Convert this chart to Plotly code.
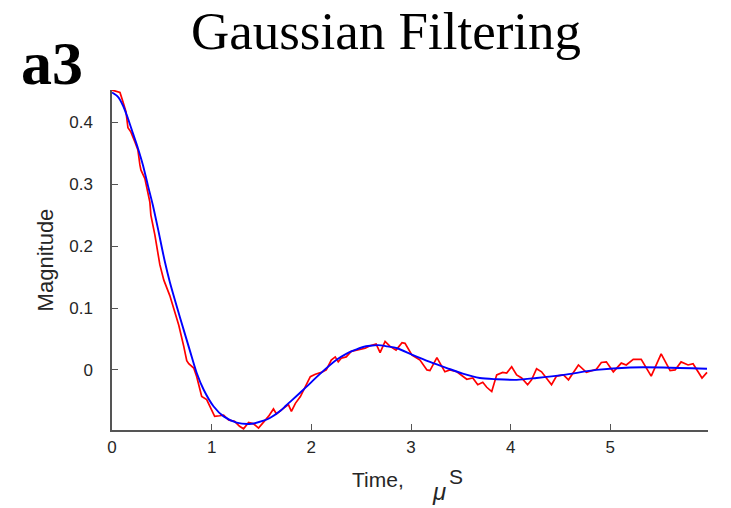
import plotly.graph_objects as go

# Gaussian-filtered (smooth) curve
blue_t = [0.00, 0.06, 0.11, 0.16, 0.21, 0.26, 0.31, 0.36, 0.41, 0.46, 0.53, 0.58,
          0.68, 0.78, 0.85, 0.92, 1.02, 1.12, 1.25, 1.40, 1.52, 1.58, 1.69, 1.75,
          1.92, 2.09, 2.25, 2.35, 2.42, 2.52, 2.59, 2.67, 2.76, 2.86, 3.02, 3.19,
          3.36, 3.52, 3.69, 3.86, 4.06, 4.26, 4.53, 4.86, 5.20, 5.53, 5.97]
blue_v = [0.448, 0.441, 0.427, 0.406, 0.382, 0.358, 0.331, 0.298, 0.266, 0.229, 0.175, 0.142,
          0.086, 0.032, -0.005, -0.032, -0.059, -0.075, -0.085, -0.087, -0.082, -0.078, -0.066, -0.057,
          -0.032, -0.006, 0.016, 0.026, 0.031, 0.037, 0.039, 0.040, 0.038, 0.035, 0.024, 0.013,
          0.003, -0.006, -0.013, -0.015, -0.016, -0.013, -0.008, 0.000, 0.004, 0.004, 0.002]

# Noisy (raw) curve
red_t = [0.00, 0.04, 0.08, 0.11, 0.14, 0.16, 0.19, 0.23, 0.26, 0.28, 0.29, 0.33, 0.36, 0.38,
         0.39, 0.43, 0.48, 0.52, 0.58, 0.62, 0.67, 0.72, 0.75, 0.77, 0.82, 0.85, 0.90, 0.95,
         1.00, 1.03, 1.08, 1.12, 1.17, 1.23, 1.28, 1.32, 1.37, 1.42, 1.47, 1.52, 1.57, 1.62,
         1.65, 1.72, 1.77, 1.80, 1.84, 1.89, 1.94, 1.99, 2.04, 2.10, 2.15, 2.20, 2.24, 2.27,
         2.30, 2.35, 2.40, 2.47, 2.54, 2.59, 2.65, 2.69, 2.74, 2.79, 2.85, 2.91, 2.94, 3.01,
         3.06, 3.09, 3.16, 3.19, 3.26, 3.34, 3.39, 3.46, 3.56, 3.62, 3.67, 3.72, 3.76, 3.81,
         3.86, 3.92, 3.96, 4.01, 4.06, 4.11, 4.17, 4.21, 4.26, 4.31, 4.41, 4.46, 4.53, 4.58,
         4.68, 4.76, 4.86, 4.91, 4.96, 5.03, 5.11, 5.16, 5.23, 5.31, 5.41, 5.51, 5.60, 5.65,
         5.71, 5.78, 5.83, 5.92, 5.97]
red_v = [0.452, 0.450, 0.448, 0.433, 0.417, 0.391, 0.384, 0.368, 0.355, 0.331, 0.323, 0.309, 0.288, 0.271,
         0.250, 0.218, 0.170, 0.145, 0.120, 0.100, 0.072, 0.038, 0.015, 0.010, 0.003, -0.011, -0.043, -0.048,
         -0.065, -0.075, -0.074, -0.073, -0.081, -0.083, -0.091, -0.095, -0.085, -0.087, -0.094, -0.085, -0.075, -0.063,
         -0.071, -0.062, -0.056, -0.067, -0.054, -0.043, -0.027, -0.011, -0.007, -0.004, 0.000, 0.016, 0.021, 0.013,
         0.019, 0.021, 0.030, 0.032, 0.035, 0.039, 0.042, 0.028, 0.046, 0.038, 0.032, 0.044, 0.043, 0.024,
         0.019, 0.016, 0.000, -0.001, 0.020, -0.003, 0.000, -0.003, -0.015, -0.013, -0.024, -0.020, -0.028, -0.035,
         -0.008, -0.004, -0.005, 0.005, -0.008, -0.013, -0.024, -0.016, 0.002, -0.003, -0.024, -0.010, -0.008, -0.016,
         0.008, -0.004, 0.001, 0.012, 0.013, -0.003, 0.011, 0.008, 0.017, 0.017, -0.010, 0.026, -0.001, 0.000,
         0.013, 0.008, 0.010, -0.013, -0.004]

x_ticks = [0, 1, 2, 3, 4, 5]
y_ticks = [0, 0.1, 0.2, 0.3, 0.4]
y_tick_text = ["0", "0.1", "0.2", "0.3", "0.4"]

fig = go.Figure()
fig.add_trace(go.Scatter(x=red_t, y=red_v, mode="lines",
                         line=dict(color="#ff0000", width=1.7), showlegend=False))
fig.add_trace(go.Scatter(x=blue_t, y=blue_v, mode="lines",
                         line=dict(color="#0000ff", width=1.9, shape="spline", smoothing=0.8),
                         showlegend=False))

axis_font = dict(family="Liberation Sans, Arial, sans-serif", size=17, color="#262626")

fig.update_layout(
    width=731, height=508,
    margin=dict(l=112, r=23, t=90, b=78),
    paper_bgcolor="white", plot_bgcolor="white",
    xaxis=dict(range=[0, 5.98], tickvals=x_ticks, ticks="inside", ticklen=6,
               tickcolor="#555555", showline=True, linecolor="#555555", linewidth=1.5,
               showgrid=False, zeroline=False, tickfont=axis_font, ticklabelstandoff=1),
    yaxis=dict(range=[-0.097, 0.452], tickvals=y_ticks, ticktext=y_tick_text,
               ticks="inside", ticklen=6, tickcolor="#555555", showline=True,
               linecolor="#555555", linewidth=1.5, showgrid=False, zeroline=False,
               tickfont=axis_font, ticklabelstandoff=14,
               title=dict(text="Magnitude", font=dict(family="Liberation Sans, Arial, sans-serif",
                                                      size=22, color="#262626"), standoff=10)),
    title=dict(text="Gaussian Filtering", x=386 / 731, xanchor="center",
               y=1 - 30 / 508, yanchor="middle",
               font=dict(family="Liberation Serif, serif", size=53, color="black")),
)

lab_font = dict(family="Liberation Sans, Arial, sans-serif", size=21, color="#262626")
fig.add_annotation(text="<b>a3</b>", xref="paper", yref="paper",
                   x=(52 - 112) / 596, y=(430 - 63) / 340, xanchor="center", yanchor="middle",
                   showarrow=False,
                   font=dict(family="Liberation Serif, serif", size=62, color="black"))
fig.add_annotation(text="Time,", xref="paper", yref="paper",
                   x=(378 - 112) / 596, y=(430 - 479) / 340, xanchor="center", yanchor="middle",
                   showarrow=False, font=lab_font)
fig.add_annotation(text="<i>μ</i>", xref="paper", yref="paper",
                   x=(439 - 112) / 596, y=(430 - 491) / 340, xanchor="center", yanchor="middle",
                   showarrow=False, font=dict(family="Liberation Sans, Arial, sans-serif",
                                              size=24, color="#262626"))
fig.add_annotation(text="S", xref="paper", yref="paper",
                   x=(456 - 112) / 596, y=(430 - 476) / 340, xanchor="center", yanchor="middle",
                   showarrow=False, font=lab_font)

fig.write_html("out.html")
